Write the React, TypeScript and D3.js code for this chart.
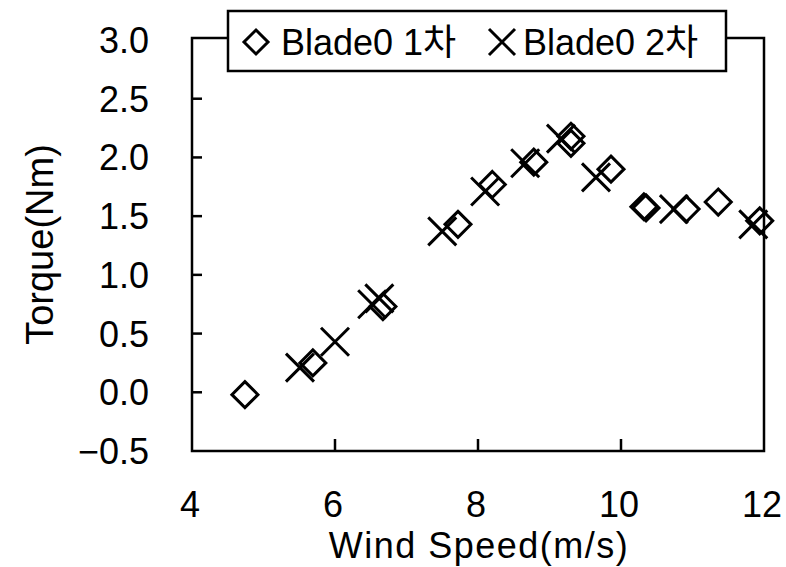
import React, { useRef, useEffect } from "react";
import * as d3 from "d3";

// Blade0 1st test (diamonds)
const windSpeed1 = [4.74, 5.69, 6.67, 7.72, 8.2, 8.78, 9.3, 9.3, 9.86, 10.32, 10.35, 10.91, 11.36, 11.94];
const torque1 = [-0.02, 0.25, 0.73, 1.43, 1.77, 1.96, 2.18, 2.12, 1.9, 1.58, 1.57, 1.56, 1.62, 1.46];

// Blade0 2nd test (crosses)
const windSpeed2 = [5.51, 6.0, 6.52, 6.62, 7.5, 8.1, 8.66, 9.16, 9.65, 10.74, 11.85];
const torque2 = [0.21, 0.43, 0.75, 0.8, 1.37, 1.71, 1.95, 2.16, 1.83, 1.56, 1.43];

const xTicks = [4, 6, 8, 10, 12];
const yTicks = [-0.5, 0, 0.5, 1.0, 1.5, 2.0, 2.5, 3.0];

const seriesNames = ["Blade0 1차", "Blade0 2차"];

const FONT = "'Liberation Sans', Arial, 'Noto Sans CJK KR', sans-serif";

export default function App() {
  const svgRef = useRef<SVGSVGElement>(null);
  const width = 786;
  const height = 567;

  useEffect(() => {
    const svg = d3.select(svgRef.current);
    svg.selectAll("*").remove();

    const margin = { top: 40, right: 22, bottom: 116, left: 192 };
    const x = d3.scaleLinear().domain([4, 12]).range([margin.left, width - margin.right]);
    const y = d3.scaleLinear().domain([-0.5, 3.0]).range([height - margin.bottom, margin.top]);

    const g = svg.append("g");
    const x0 = x(4), x1 = x(12), yb = y(-0.5), yt = y(3.0) - 2;

    // frame
    g.append("path")
      .attr("d", `M${x0},${yt}V${yb}H${x1}V${yt}Z`)
      .attr("fill", "none")
      .attr("stroke", "#000")
      .attr("stroke-width", 2.5);

    // inner ticks
    g.selectAll(".yt")
      .data(yTicks.filter((d) => d > -0.5 && d < 3.0))
      .join("line")
      .attr("x1", x0)
      .attr("x2", x0 + 10)
      .attr("y1", (d) => y(d))
      .attr("y2", (d) => y(d))
      .attr("stroke", "#000")
      .attr("stroke-width", 2.5);

    g.selectAll(".xt")
      .data(xTicks.filter((d) => d > 4 && d < 12))
      .join("line")
      .attr("x1", (d) => x(d))
      .attr("x2", (d) => x(d))
      .attr("y1", yb)
      .attr("y2", yb - 12)
      .attr("stroke", "#000")
      .attr("stroke-width", 2.5);

    // tick labels
    g.selectAll(".yl")
      .data(yTicks)
      .join("text")
      .attr("x", 149)
      .attr("y", (d) => y(d) + 13)
      .attr("text-anchor", "end")
      .attr("font-family", FONT)
      .attr("font-size", 36)
      .text((d) => (d < 0 ? "\u2212" : "") + d3.format(".1f")(Math.abs(d)));

    g.selectAll(".xl")
      .data(xTicks)
      .join("text")
      .attr("x", (d) => x(d) - 2)
      .attr("y", 517)
      .attr("text-anchor", "middle")
      .attr("font-family", FONT)
      .attr("font-size", 36)
      .text((d) => d);

    // axis titles
    g.append("text")
      .attr("x", (x0 + x1) / 2 + 1)
      .attr("y", 558)
      .attr("text-anchor", "middle")
      .attr("font-family", FONT)
      .attr("font-size", 36)
      .attr("letter-spacing", 1.5)
      .text("Wind Speed(m/s)");

    g.append("text")
      .attr("transform", `translate(53,${(yt + yb) / 2}) rotate(-90)`)
      .attr("text-anchor", "middle")
      .attr("font-family", FONT)
      .attr("font-size", 38)
      .text("Torque(Nm)");

    const diamond = (cx: number, cy: number, r: number) =>
      `M${cx},${cy - r}L${cx + r},${cy}L${cx},${cy + r}L${cx - r},${cy}Z`;
    const cross = (cx: number, cy: number, r: number) =>
      `M${cx - r},${cy - r}L${cx + r},${cy + r}M${cx - r},${cy + r}L${cx + r},${cy - r}`;

    // data markers
    const pts1 = windSpeed1.map((w, i) => [w, torque1[i]]);
    const pts2 = windSpeed2.map((w, i) => [w, torque2[i]]);

    g.selectAll(".s1")
      .data(pts1)
      .join("path")
      .attr("d", (d) => diamond(x(d[0]), y(d[1]), 13))
      .attr("fill", "none")
      .attr("stroke", "#000")
      .attr("stroke-width", 3);

    g.selectAll(".s2")
      .data(pts2)
      .join("path")
      .attr("d", (d) => cross(x(d[0]), y(d[1]), 14))
      .attr("fill", "none")
      .attr("stroke", "#000")
      .attr("stroke-width", 3);

    // legend
    const lg = g.append("g");
    lg.append("rect")
      .attr("x", 228)
      .attr("y", 11)
      .attr("width", 498)
      .attr("height", 60)
      .attr("fill", "#fff")
      .attr("stroke", "#000")
      .attr("stroke-width", 2.5);
    lg.append("path").attr("d", diamond(256, 42, 12)).attr("fill", "none").attr("stroke", "#000").attr("stroke-width", 3);
    lg.append("text")
      .attr("x", 281)
      .attr("y", 55)
      .attr("font-family", FONT)
      .attr("font-size", 36)
      .text(seriesNames[0]);
    lg.append("path").attr("d", cross(502, 42, 13)).attr("fill", "none").attr("stroke", "#000").attr("stroke-width", 3);
    lg.append("text")
      .attr("x", 523)
      .attr("y", 55)
      .attr("font-family", FONT)
      .attr("font-size", 36)
      .text(seriesNames[1]);
  }, []);

  return (
    <div style={{ position: "fixed", left: 0, top: 0, background: "#fff" }}>
      <svg ref={svgRef} width={width} height={height} style={{ display: "block" }} />
    </div>
  );
}
